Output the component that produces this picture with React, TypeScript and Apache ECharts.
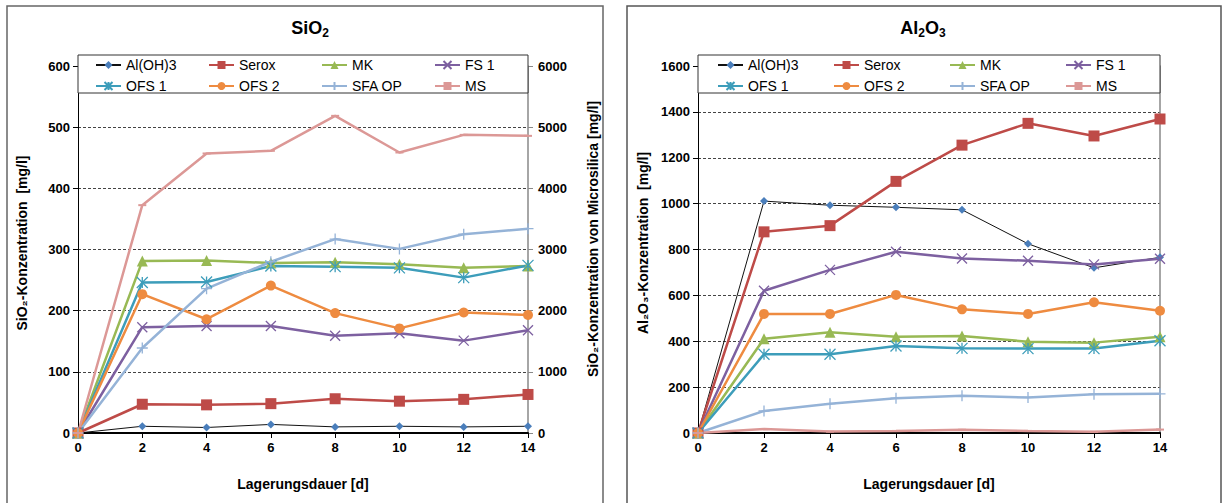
import React, { useEffect, useRef } from 'react';
import * as echarts from 'echarts';

const days = [0, 2, 4, 6, 8, 10, 12, 14];
const seriesNames = ['Al(OH)3', 'Serox', 'MK', 'FS 1', 'OFS 1', 'OFS 2', 'SFA OP', 'MS'];

// SiO2 chart (mg/l); MS on secondary axis
const siAl = [0, 11, 9, 14, 10, 11, 10, 11];
const siSerox = [0, 47, 46, 48, 56, 52, 55, 63];
const siMK = [0, 281, 282, 278, 279, 276, 270, 273];
const siFS1 = [0, 173, 175, 175, 159, 163, 151, 168];
const siOFS1 = [0, 246, 247, 273, 272, 270, 254, 274];
const siOFS2 = [0, 227, 186, 241, 196, 171, 197, 193];
const siSFA = [0, 139, 236, 280, 317, 301, 325, 334];
const siMS = [0, 3725, 4570, 4613, 5185, 4586, 4874, 4858];

// Al2O3 chart (mg/l)
const alAl = [0, 1011, 993, 984, 973, 825, 720, 766];
const alSerox = [0, 877, 904, 1097, 1255, 1350, 1295, 1369];
const alMK = [0, 411, 439, 420, 423, 398, 394, 420];
const alFS1 = [0, 620, 711, 790, 761, 751, 735, 760];
const alOFS1 = [0, 343, 343, 379, 369, 368, 368, 402];
const alOFS2 = [0, 519, 519, 602, 539, 519, 570, 533];
const alSFA = [0, 96, 128, 152, 162, 155, 169, 171];
const alMS = [0, 17, 6, 9, 14, 9, 5, 15];

const FONT = '"Liberation Sans", Arial, sans-serif';

const STY: Record<string, any> = {
  'Al(OH)3': { color: '#4A7EBB', line: '#111', width: 1, symbol: 'diamond', size: 8, bw: 0 },
  'Serox': { color: '#BE4B48', line: '#BE4B48', width: 2.5, symbol: 'rect', size: 11, bw: 0 },
  'MK': { color: '#98B954', line: '#98B954', width: 2.5, symbol: 'triangle', size: 11, bw: 0 },
  'FS 1': { color: '#7D60A0', line: '#7D60A0', width: 2.5, symbol: 'path://M0,0L10,10M10,0L0,10', size: 10, bw: 1.3 },
  'OFS 1': { color: '#3D9DBA', line: '#3D9DBA', width: 2.5, symbol: 'path://M0,0L10,10M10,0L0,10M5,0L5,10', size: 11, bw: 1.3 },
  'OFS 2': { color: '#EE8B40', line: '#EE8B40', width: 2.5, symbol: 'circle', size: 10, bw: 0 },
  'SFA OP': { color: '#95B3D7', line: '#95B3D7', width: 2.5, symbol: 'path://M5,0L5,10M0,5L10,5', size: 11, bw: 1.3 },
  'MS': { color: '#DC9896', line: '#DC9896', width: 2.5, symbol: 'rect', size: [8, 2], bw: 0 },
};

function mkSeries(name: string, values: number[], xi: number, yi: number) {
  const st = STY[name];
  return {
    type: 'line',
    name,
    xAxisIndex: xi,
    yAxisIndex: yi,
    data: days.map((d, i) => [d, values[i]]),
    symbol: st.symbol,
    symbolSize: st.size,
    showSymbol: true,
    lineStyle: { color: st.line, width: st.width },
    itemStyle: { color: st.color, borderColor: st.color, borderWidth: st.bw },
    emphasis: { disabled: true },
  };
}

const plainLabel = (v: number) => String(v);

function xAxisCfg(gi: number) {
  return {
    gridIndex: gi,
    type: 'value',
    min: 0,
    max: 14,
    interval: 2,
    axisLine: { lineStyle: { color: '#000', width: 2 } },
    axisTick: { show: true, inside: false, length: 5, lineStyle: { color: '#000' } },
    axisLabel: { fontSize: 13, fontWeight: 'bold', color: '#000', fontFamily: FONT, margin: 8, formatter: plainLabel },
    splitLine: { show: false },
    name: 'Lagerungsdauer [d]',
    nameLocation: 'middle',
    nameGap: 44,
    nameTextStyle: { fontSize: 14, fontWeight: 'bold', color: '#000', fontFamily: FONT },
  };
}

function yAxisMain(gi: number, max: number, interval: number) {
  return {
    gridIndex: gi,
    type: 'value',
    min: 0,
    max,
    interval,
    position: 'left',
    axisLine: { show: true, lineStyle: { color: '#000', width: 1 } },
    axisTick: { show: true, inside: false, length: 5, lineStyle: { color: '#000' } },
    axisLabel: { fontSize: 13, fontWeight: 'bold', color: '#000', fontFamily: FONT, margin: 8, formatter: plainLabel },
    splitLine: { show: true, lineStyle: { color: '#444', type: [3, 2], width: 1 } },
  };
}

function axisNameText(x: number, y: number, text: string) {
  return {
    type: 'text',
    x,
    y,
    rotation: Math.PI / 2,
    z: 6,
    style: {
      text,
      align: 'center',
      verticalAlign: 'middle',
      fontSize: 14,
      fontWeight: 'bold',
      fontFamily: FONT,
      fill: '#000',
    },
  };
}

const titleRich = {
  a: { fontSize: 18, fontWeight: 'bold', fontFamily: FONT, color: '#000', lineHeight: 22 },
  s: { fontSize: 12, fontWeight: 'bold', fontFamily: FONT, color: '#000', verticalAlign: 'bottom', lineHeight: 12, padding: [8, 0, 0, 0] },
};

export default function App() {
  const ref = useRef<HTMLDivElement>(null);
  useEffect(() => {
    if (!ref.current) return;
    const chart = echarts.init(ref.current, null, { renderer: 'svg' });
    const legendCommon = {
      data: seriesNames,
      orient: 'horizontal',
      width: 470,
      itemWidth: 25,
      itemHeight: 10,
      itemGap: 7,
      selectedMode: false,
      z: 10,
    };
    const option: any = {
      animation: false,
      backgroundColor: '#fff',
      title: [
        { text: '{a|SiO}{s|2}', left: 305, top: 12, textAlign: 'center', textStyle: { rich: titleRich } },
        { text: '{a|Al}{s|2}{a|O}{s|3}', left: 918, top: 12, textAlign: 'center', textStyle: { rich: titleRich } },
      ],
      legend: [
        {
          ...legendCommon,
          left: 90,
          top: 53,
          textStyle: { fontSize: 14, color: '#000', fontFamily: FONT, width: 75, height: 12, lineHeight: 12 },
        },
        {
          ...legendCommon,
          left: 712,
          top: 53,
          textStyle: { fontSize: 14, color: '#000', fontFamily: FONT, width: 78, height: 12, lineHeight: 12 },
        },
      ],
      grid: [
        { left: 78, right: 694, top: 66, bottom: 70 },
        { left: 698, right: 62, top: 66, bottom: 70 },
      ],
      xAxis: [xAxisCfg(0), xAxisCfg(1)],
      yAxis: [
        yAxisMain(0, 600, 100),
        {
          gridIndex: 0,
          type: 'value',
          min: 0,
          max: 6000,
          interval: 1000,
          position: 'right',
          axisLine: { show: true, lineStyle: { color: '#888', width: 1.5 } },
          axisTick: { show: true, inside: false, length: 5, lineStyle: { color: '#888' } },
          axisLabel: { fontSize: 13, fontWeight: 'bold', color: '#000', fontFamily: FONT, margin: 10, formatter: plainLabel },
          splitLine: { show: false },
        },
        yAxisMain(1, 1600, 200),
        {
          gridIndex: 1,
          type: 'value',
          min: 0,
          max: 1600,
          interval: 200,
          position: 'right',
          axisLine: { show: true, lineStyle: { color: '#888', width: 1.5 } },
          axisTick: { show: false },
          axisLabel: { show: false },
          splitLine: { show: false },
        },
      ],
      graphic: [
        { type: 'rect', z: 0, shape: { x: 7, y: 6, width: 596, height: 520 }, style: { fill: 'none', stroke: '#666', lineWidth: 1.5 } },
        { type: 'rect', z: 0, shape: { x: 627, y: 6, width: 594, height: 520 }, style: { fill: 'none', stroke: '#555', lineWidth: 1.5 } },
        { type: 'rect', z: 5, shape: { x: 78, y: 55, width: 450, height: 38 }, style: { fill: '#fff', stroke: '#333', lineWidth: 1 } },
        { type: 'rect', z: 5, shape: { x: 698, y: 55, width: 462, height: 38 }, style: { fill: '#fff', stroke: '#333', lineWidth: 1 } },
        axisNameText(22, 243, 'SiO\u2082-Konzentration  [mg/l]'),
        axisNameText(593, 239, 'SiO\u2082-Konzentration von Microsilica [mg/l]'),
        axisNameText(643, 243, 'Al\u2082O\u2083-Konzentration  [mg/l]'),
      ],
      series: [
        mkSeries('Al(OH)3', siAl, 0, 0),
        mkSeries('Serox', siSerox, 0, 0),
        mkSeries('MK', siMK, 0, 0),
        mkSeries('FS 1', siFS1, 0, 0),
        mkSeries('OFS 1', siOFS1, 0, 0),
        mkSeries('OFS 2', siOFS2, 0, 0),
        mkSeries('SFA OP', siSFA, 0, 0),
        mkSeries('MS', siMS, 0, 1),
        mkSeries('Al(OH)3', alAl, 1, 2),
        mkSeries('Serox', alSerox, 1, 2),
        mkSeries('MK', alMK, 1, 2),
        mkSeries('FS 1', alFS1, 1, 2),
        mkSeries('OFS 1', alOFS1, 1, 2),
        mkSeries('OFS 2', alOFS2, 1, 2),
        mkSeries('SFA OP', alSFA, 1, 2),
        mkSeries('MS', alMS, 1, 2),
      ],
    };
    chart.setOption(option);
    return () => chart.dispose();
  }, []);
  return <div ref={ref} style={{ position: 'absolute', left: 0, top: 0, width: 1222, height: 503 }} />;
}
